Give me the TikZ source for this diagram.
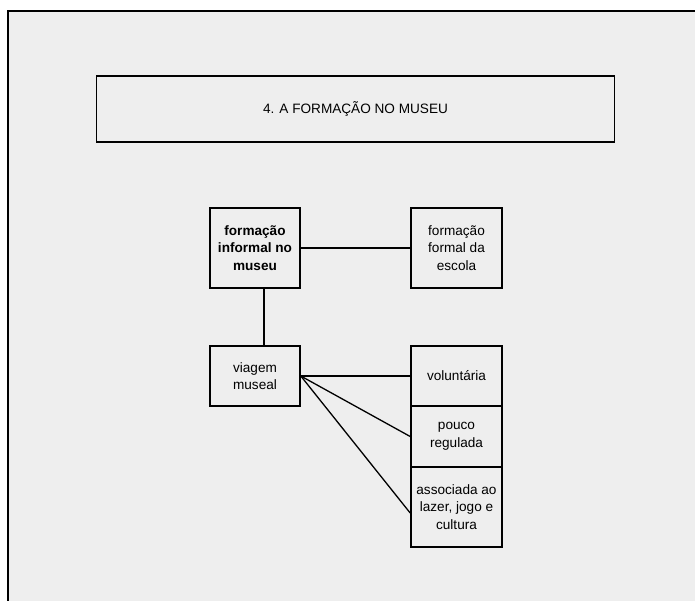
\documentclass[tikz,border=0pt]{standalone}
\usepackage{fontspec}
\setmainfont{Liberation Sans}
\usetikzlibrary{calc}
\definecolor{bggray}{RGB}{238,238,238}
\tikzset{
  boxnode/.style={draw=black, line width=1.6pt, inner sep=0pt, align=center,
    font=\fontsize{13.6}{17.6}\selectfont},
  conn/.style={draw=black, line width=1.3pt}
}
\begin{document}
\begin{tikzpicture}[x=1pt,y=-1pt]
\useasboundingbox (0,0) rectangle (695,600);
\clip (0,0) rectangle (695,600);
\fill[white] (0,0) rectangle (695,600);
\draw[line width=2pt, fill=bggray] (7.5,11) rectangle (710,615);
% title
\node[boxnode, minimum width=518pt, minimum height=66pt] (title) at (355.5,109) {4. A FORMAÇÃO NO MUSEU};
% boxes
\node[boxnode, minimum width=90pt, minimum height=80pt] (A) at (255,248) {\bfseries formação\\\bfseries informal no\\\bfseries museu};
\node[boxnode, minimum width=91pt, minimum height=80pt] (B) at (456.5,248) {formação\\formal da\\escola};
\node[boxnode, minimum width=90pt, minimum height=60pt] (C) at (255,376) {viagem\\museal};
\node[boxnode, minimum width=91pt, minimum height=60pt] (vol) at (456.5,376) {voluntária};
\node[boxnode, minimum width=91pt, minimum height=61pt] (pouco) at (456.5,436.5) {pouco\\regulada};
\node[boxnode, minimum width=91pt, minimum height=80pt] (assoc) at (456.5,507) {associada ao\\lazer, jogo e\\cultura};
\coordinate (vx) at (264,0);
% connectors
\draw[conn] (A.east) -- (B.west);
\draw[conn] (A.south -| vx) -- (C.north -| vx);
\draw[conn] (C.east) -- (vol.west);
\draw[conn] (C.east) -- (pouco.west);
\draw[conn] (C.east) -- ($(assoc.west)+(0,6)$);
\end{tikzpicture}
\end{document}
